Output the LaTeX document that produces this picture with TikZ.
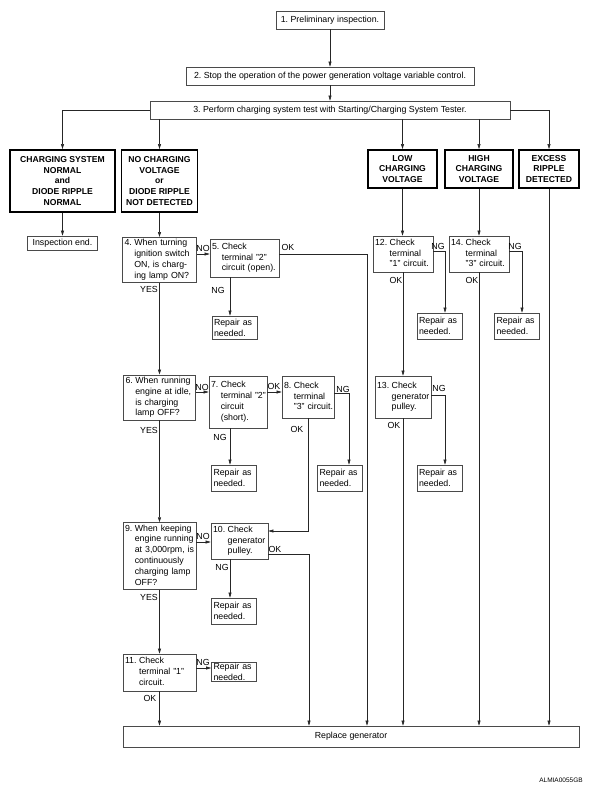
\documentclass[tikz,border=0pt]{standalone}
\usepackage{fontspec}
\setmainfont{Liberation Sans}
\usetikzlibrary{arrows.meta, positioning, calc}
\definecolor{cline}{HTML}{262626}
\definecolor{cbox}{HTML}{4A4A4A}
\frenchspacing
\newcommand{\stp}[2]{\begin{tabular}[t]{@{}l@{\hspace{2.5pt}}l@{}}#1&\begin{tabular}[t]{@{}l@{}}#2\end{tabular}\end{tabular}}
\tikzset{
  every picture/.style={line width=0.6pt, font=\fontsize{8.8}{10.8}\selectfont\frenchspacing},
  stepbox/.style 2 args={draw=cbox, line width=0.7pt, text width=#1, minimum height=#2, inner xsep=2pt, inner ysep=1pt, align=left},
  plainbox/.style 2 args={draw=cbox, line width=0.7pt, minimum width=#1, minimum height=#2, inner sep=1pt, align=center},
  result/.style 2 args={draw=black, line width=1.8pt, minimum width=#1, minimum height=#2, inner sep=1pt, align=center, font=\fontsize{8.6}{10.9}\selectfont\bfseries},
  lbl/.style={inner sep=0pt},
  arr/.style={-{Triangle[length=5pt,width=3pt]}, draw=cline, line width=0.6pt},
}
\begin{document}
\begin{tikzpicture}[x=1pt, y=-1pt]
  \useasboundingbox (0,0) rectangle (594,792);
  % top of the chart
  \node[plainbox={108pt}{18pt}] (b1) at (330,20) {1. Preliminary inspection.};
  \node[plainbox={288pt}{18pt}] (b2) at (330,76) {2. Stop the operation of the power generation voltage variable control.};
  \node[plainbox={360pt}{18pt}] (b3) at (330,110) {3. Perform charging system test with Starting/Charging System Tester.};
  \draw[arr] (b1) -- (b2);
  \draw[arr] (b2) -- (b3);
  % test results
  \node[result={105pt}{62pt}] (rA) at (62.5,181) {CHARGING SYSTEM\\NORMAL\\and\\DIODE RIPPLE\\NORMAL};
  \node[result={76pt}{62pt}] (rB) at (159.5,181) {NO CHARGING\\VOLTAGE\\or\\DIODE RIPPLE\\NOT DETECTED};
  \node[result={69pt}{38pt}] (rL) at (402.5,169) {LOW\\CHARGING\\VOLTAGE};
  \node[result={68pt}{38pt}] (rH) at (479,169) {HIGH\\CHARGING\\VOLTAGE};
  \node[result={60pt}{38pt}] (rE) at (549,169) {EXCESS\\RIPPLE\\DETECTED};
  \draw[arr] (b3.west) -| (rA.north);
  \draw[arr] (b3.south -| rB.north) -- (rB.north);
  \draw[arr] (b3.south -| rL.north) -- (rL.north);
  \draw[arr] (b3.south -| rH.north) -- (rH.north);
  \draw[arr] (b3.east) -| (rE.north);
  \node[plainbox={70pt}{14pt}] (ie) at (62.5,243) {Inspection end.};
  \draw[arr] (rA) -- (ie);
  % left branch
  \node[stepbox={70pt}{44pt}] (s4) at (159.5,260) {\stp{4.}{When turning\\ignition switch\\ON, is charg-\\ing lamp ON?}};
  \node[stepbox={65pt}{38pt}] (s5) at (244.5,258) {\stp{5.}{Check\\terminal "2"\\circuit (open).}};
  \node[stepbox={68pt}{45pt}] (s6) at (159.5,397.5) {\stp{6.}{When running\\engine at idle,\\is charging\\lamp OFF?}};
  \node[stepbox={54pt}{52pt}] (s7) at (238,402) {\stp{7.}{Check\\terminal "2"\\circuit\\(short).}};
  \node[stepbox={48pt}{42pt}] (s8) at (308,397) {\stp{8.}{Check\\terminal\\"3" circuit.}};
  \node[stepbox={69pt}{66pt}] (s9) at (159.5,556) {\stp{9.}{When keeping\\engine running\\at 3,000rpm, is\\continuously\\charging lamp\\OFF?}};
  \node[stepbox={53pt}{36pt}] (s10) at (239.5,541) {\stp{10.}{Check\\generator\\pulley.}};
  \node[stepbox={69pt}{37pt}] (s11) at (159.5,672.5) {\stp{11.}{Check\\terminal "1"\\circuit.}};
  % right branches
  \node[stepbox={56pt}{36pt}] (s12) at (403,254) {\stp{12.}{Check\\terminal\\"1" circuit.}};
  \node[stepbox={52pt}{42pt}] (s13) at (403,397) {\stp{13.}{Check\\generator\\pulley.}};
  \node[stepbox={56pt}{36pt}] (s14) at (479,254) {\stp{14.}{Check\\terminal\\"3" circuit.}};
  % repair boxes
  \foreach \n/\x/\y/\h in {5/234.5/327.5/23, 7/234/478/26, 8/340/478/26, 10/234/611/26, 11/234/672/19, 12/439.5/326/26, 13/439.5/478/26, 14/517/326/26}
    \node[stepbox={41pt}{\h pt}] (p\n) at (\x,\y) {Repair as\\needed.};
  \node[plainbox={456pt}{21pt}] (rg) at (351,736.5) {Replace generator};
  % connectors, left branch
  \draw[arr] (rB) -- (s4);
  \draw[arr] ([yshift=6pt]s4.east) -- ([yshift=4pt]s5.west);
  \draw[arr] ([yshift=4pt]s5.east) -| ([xshift=16pt]rg.north);
  \draw[arr] ([xshift=-14.5pt]s5.south) -- ([xshift=-4.5pt]p5.north);
  \draw[arr] (s4) -- (s6);
  \draw[arr] ([yshift=5.5pt]s6.east) -- ([yshift=10pt]s7.west);
  \draw[arr] ([yshift=10pt]s7.east) -- ([yshift=5pt]s8.west);
  \draw[arr] ([xshift=-8pt]s7.south) -- ([xshift=-4pt]p7.north);
  \draw[arr] ([yshift=4pt]s8.east) -| ([xshift=9pt]p8.north);
  \draw[arr] (s8.south) |- ([yshift=10pt]s10.east);
  \draw[arr] (s6) -- (s9);
  \draw[arr] ([yshift=14pt]s9.east) -- ([yshift=-1pt]s10.west);
  \draw[arr] ([yshift=-13pt]s10.east) -| ([xshift=-42pt]rg.north);
  \draw[arr] ([xshift=-9.5pt]s10.south) -- ([xshift=-4pt]p10.north);
  \draw[arr] (s9) -- (s11);
  \draw[arr] ([yshift=4.5pt]s11.east) -- ([yshift=4pt]p11.west);
  \draw[arr] (s11.south) -- (s11.south |- rg.north);
  % connectors, right branches
  \draw[arr] (rL.south) -- (rL.south |- s12.north);
  \draw[arr] ([yshift=3pt]s12.east) -| ([xshift=5.5pt]p12.north);
  \draw[arr] (s12) -- (s13);
  \draw[arr] ([yshift=2pt]s13.east) -| ([xshift=5.5pt]p13.north);
  \draw[arr] (s13.south) -- (s13.south |- rg.north);
  \draw[arr] (rH.south) -- (rH.south |- s14.north);
  \draw[arr] ([yshift=3pt]s14.east) -| ([xshift=5pt]p14.north);
  \draw[arr] (s14.south) -- (s14.south |- rg.north);
  \draw[arr] (rE.south) -- (rE.south |- rg.north);
  % answer labels
  \foreach \t/\x/\y/\m in {NO/203/248/n4, OK/288/247/o5, NG/218/290/g5, YES/149/289/y4,
      NO/202/387/n6, OK/274/386/o7, NG/220/437/g7, NG/343/389/g8, OK/297/429/o8, YES/149/430/y6,
      NO/203/536/n9, OK/275/549/o10, NG/222/567/g10, YES/149/597/y9, NG/203/662/g11, OK/150/698/o11,
      NG/438/246/g12, OK/396/280/o12, NG/515/246/g14, OK/472/280/o14, NG/439/388/g13, OK/394/425/o13}
    \node[lbl] (\m) at (\x,\y) {\t};
  \node[lbl, font=\fontsize{6.5}{7}\selectfont] (code) at (561,780) {ALMIA0055GB};
\end{tikzpicture}
\end{document}
